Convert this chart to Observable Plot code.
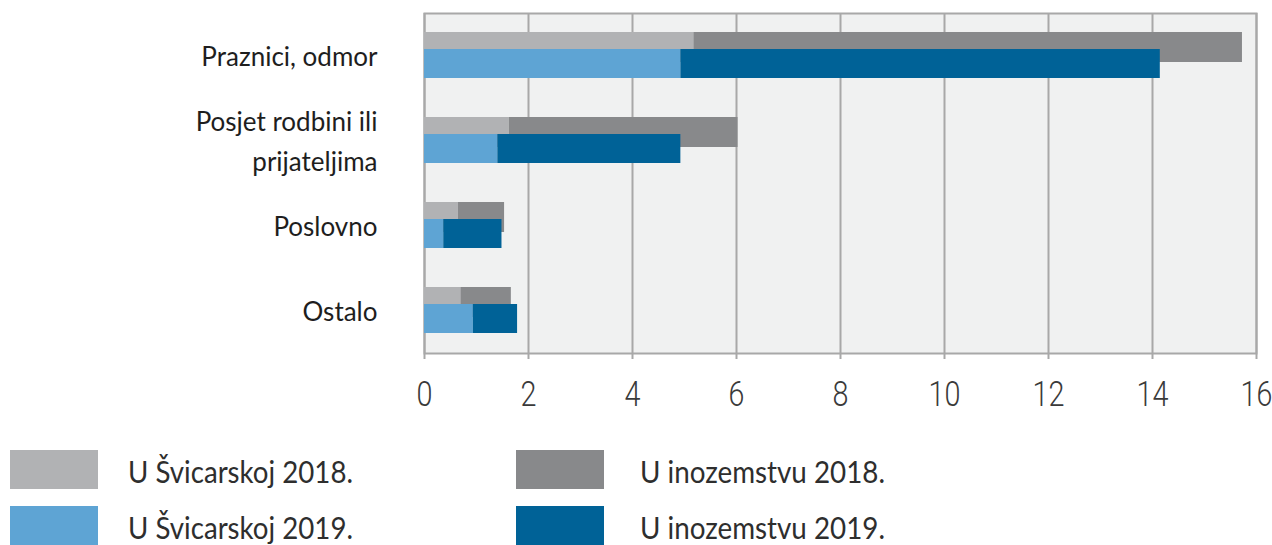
<!DOCTYPE html>
<html>
<head>
<meta charset="utf-8">
<script src="https://cdn.jsdelivr.net/npm/d3@7"></script>
<script src="https://cdn.jsdelivr.net/npm/@observablehq/plot@0.6"></script>
<style>
  html, body { margin: 0; padding: 0; background: #fff; }
  #chart svg { display: block; }
  #legend { position: relative; width: 1272px; height: 125px; font-family: Lato, sans-serif; font-size: 30px; color: #2e2e2e; }
  .sw { position: absolute; width: 88px; height: 39px; }
  .lb { position: absolute; line-height: 39px; white-space: nowrap; transform-origin: 0 50%; }
</style>
</head>
<body>
<div id="chart"></div>
<div id="legend"></div>
<script>
const categories = ["Praznici, odmor", "Posjet rodbini ili prijateljima", "Poslovno", "Ostalo"];
const categoryLabels = ["Praznici, odmor", "Posjet rodbini ili\nprijateljima", "Poslovno", "Ostalo"];
const series = ["U Švicarskoj 2018.", "U inozemstvu 2018.", "U Švicarskoj 2019.", "U inozemstvu 2019."];
const seriesColors = ["#b1b2b4", "#88898b", "#5ea4d4", "#006297"];
const svicarska2018 = [5.18, 1.63, 0.65, 0.70];
const inozemstvo2018 = [10.55, 4.40, 0.89, 0.97];
const svicarska2019 = [4.93, 1.41, 0.37, 0.94];
const inozemstvo2019 = [9.22, 3.52, 1.12, 0.85];
const xTicks = [0, 2, 4, 6, 8, 10, 12, 14, 16];

const rows2018 = [];
const rows2019 = [];
categories.forEach((c, i) => {
  rows2018.push({cat: c, series: series[0], value: svicarska2018[i]});
  rows2018.push({cat: c, series: series[1], value: inozemstvo2018[i]});
  rows2019.push({cat: c, series: series[2], value: svicarska2019[i]});
  rows2019.push({cat: c, series: series[3], value: inozemstvo2019[i]});
});
const labelOf = new Map(categories.map((c, i) => [c, categoryLabels[i]]));

const chart = Plot.plot({
  width: 1272,
  height: 420,
  marginLeft: 424,
  marginRight: 16,
  marginTop: 13,
  marginBottom: 67,
  x: {domain: [0, 16], axis: null},
  y: {domain: categories, padding: 0, axis: null},
  color: {domain: series, range: seriesColors},
  marks: [
    Plot.frame({fill: "#f0f1f1", stroke: null}),
    Plot.ruleX(xTicks, {stroke: "#a8a8a8", strokeWidth: 2}),
    Plot.frame({stroke: "#a8a8a8", strokeWidth: 2}),
    Plot.barX(rows2018, Plot.stackX({x: "value", y: "cat", fill: "series", insetTop: 19, insetBottom: 36})),
    Plot.barX(rows2019, Plot.stackX({x: "value", y: "cat", fill: "series", insetTop: 36, insetBottom: 20})),
    Plot.axisX(xTicks, {
      tickSize: 6, tickPadding: 21, stroke: "#a8a8a8", strokeWidth: 2,
      fill: "#3a3a3a", fontSize: 36, fontFamily: "Roboto", fontWeight: 300,
      tickFormat: d => String(d), label: null
    }),
    Plot.axisY({
      tickSize: 0, tickPadding: 47, fill: "#1e1e1e", fontSize: 26,
      fontFamily: "Lato", lineHeight: 1.54, dy: -3,
      tickFormat: d => labelOf.get(d), label: null
    })
  ]
});
// narrow the x tick labels (condensed look of the reference)
chart.querySelectorAll('g[aria-label="x-axis tick label"] text').forEach(t => {
  const tr = t.getAttribute("transform") || "";
  t.setAttribute("transform", (tr + " scale(0.8,1)").trim());
  const x = t.getAttribute("x");
  if (x != null && tr === "") t.setAttribute("x", +x / 0.8);
});
document.getElementById("chart").appendChild(chart);

const legend = document.getElementById("legend");
const pos = [
  {sx: 10, tx: 128, y: 30, w: 225},
  {sx: 516, tx: 640, y: 30, w: 245},
  {sx: 10, tx: 128, y: 86, w: 225},
  {sx: 516, tx: 640, y: 86, w: 245}
];
series.forEach((s, i) => {
  const p = pos[i];
  const sw = document.createElement("div");
  sw.className = "sw";
  sw.style.left = p.sx + "px";
  sw.style.top = p.y + "px";
  sw.style.background = seriesColors[i];
  legend.appendChild(sw);
  const lb = document.createElement("div");
  lb.className = "lb";
  lb.style.left = p.tx + "px";
  lb.style.top = (p.y + 2) + "px";
  lb.textContent = s;
  legend.appendChild(lb);
  const w = lb.getBoundingClientRect().width;
  if (w > 0) lb.style.transform = `scaleX(${p.w / w})`;
});
</script>
</body>
</html>
